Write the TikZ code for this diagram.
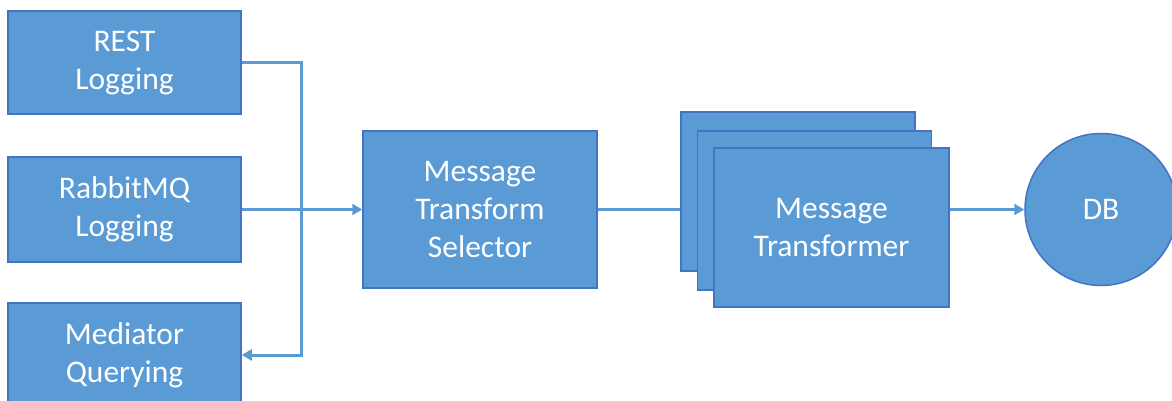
\documentclass[tikz,border=0pt]{standalone}
\usepackage{fontspec}
\setmainfont{Carlito}
\usetikzlibrary{arrows.meta}
\definecolor{boxfill}{HTML}{5B9BD5}
\definecolor{boxline}{HTML}{4472C4}
\definecolor{wire}{HTML}{5B9BD5}
\tikzset{
  block/.style={draw=boxline, fill=boxfill, line width=1.5pt, text=white, align=center,
    font=\fontsize{31.5}{38}\selectfont, inner sep=0pt},
  wireline/.style={draw=wire, line width=3pt},
  tip/.style={-{Triangle[length=10pt, width=11pt]}}
}
\begin{document}
\begin{tikzpicture}[x=1pt, y=1pt, yscale=-1, xscale=1]
\useasboundingbox (0, 0) rectangle (1172, 401);
% 输入
\node [block, minimum width=233pt, minimum height=103pt] (rest) at (124.5, 62.5) {REST\\Logging};
\node [block, minimum width=233pt, minimum height=105pt] (rabbit) at (124.5, 209.5) {RabbitMQ\\Logging};
\node [block, minimum width=233pt, minimum height=104pt] (mediator) at (124.5, 355) {Mediator\\Querying};
% 选择器
\node [block, minimum width=234pt, minimum height=157pt] (selector) at (480, 209.5) {Message\\Transform\\Selector};
% 转换器堆叠
\node [block, minimum width=234pt, minimum height=159pt] (trback) at (798, 191.5) {};
\node [block, minimum width=234pt, minimum height=159pt] (trmid) at (814.5, 210.5) {};
\node [block, minimum width=235pt, minimum height=159pt] (trfront) at (831.5, 227.5) {Message\\Transformer};
% 数据库
\node [block, circle, minimum size=152pt] (db) at (1101, 209.5) {DB};
% 连线
\coordinate (busbot) at (301, 355);
\draw [wireline, tip] (rest.east) -| (busbot) -- (mediator.east);
\draw [wireline, tip] (rabbit.east) -- (selector.west);
\draw [wireline] (selector.east) -- (selector.east -| trback.west);
\draw [wireline, tip] (db.west -| trfront.east) -- (db.west);
\end{tikzpicture}
\end{document}
